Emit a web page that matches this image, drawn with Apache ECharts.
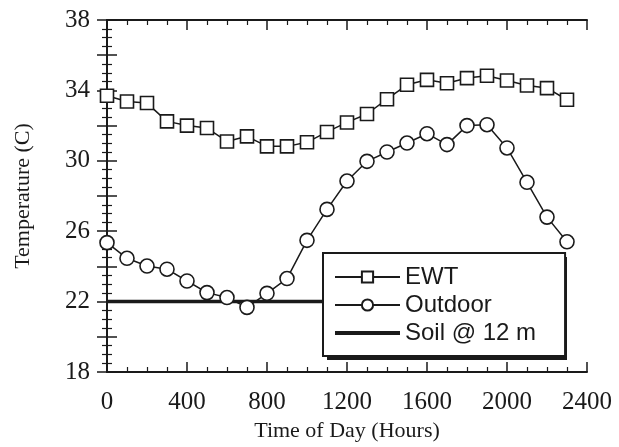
<!DOCTYPE html>
<html>
<head>
<meta charset="utf-8">
<script src="https://cdn.jsdelivr.net/npm/echarts@6/dist/echarts.min.js"></script>
<style>
  html, body { margin: 0; padding: 0; background: #fff; }
  #main { width: 619px; height: 447px; }
</style>
</head>
<body>
<div id="main"></div>
<script>
// hourly readings
const hours = [0, 100, 200, 300, 400, 500, 600, 700, 800, 900, 1000, 1100,
  1200, 1300, 1400, 1500, 1600, 1700, 1800, 1900, 2000, 2100, 2200, 2300];
const ewt = [33.7, 33.37, 33.28, 32.24, 32.0, 31.86, 31.1, 31.39, 30.82, 30.82, 31.05, 31.64,
  32.18, 32.66, 33.5, 34.32, 34.6, 34.41, 34.7, 34.83, 34.56, 34.28, 34.13, 33.47];
const outdoor = [25.35, 24.46, 24.02, 23.84, 23.17, 22.51, 22.23, 21.67, 22.47, 23.31, 25.48, 27.24,
  28.85, 29.97, 30.5, 31.01, 31.54, 30.92, 32.0, 32.05, 30.73, 28.78, 26.8, 25.4];
const soilHours = [0, 2300];
const soil = [22, 22];

const ink = '#1a1a1a';
const serif = 'Liberation Serif';
const sans = 'Liberation Sans';

const pairs = (xs, ys) => xs.map((x, i) => [x, ys[i]]);

const chart = echarts.init(document.getElementById('main'));

const xBase = {
  type: 'value', min: 0, max: 2400, interval: 400,
  axisLine: { lineStyle: { color: ink, width: 2 } },
  axisTick: { inside: true, length: 10, lineStyle: { color: ink, width: 1.5 } },
  minorTick: { show: true, splitNumber: 4, length: 5, lineStyle: { color: ink, width: 1.2 } },
  splitLine: { show: false }
};
const yBase = {
  type: 'value', min: 18, max: 38, interval: 2,
  axisLine: { lineStyle: { color: ink, width: 2 } },
  axisTick: { inside: true, length: 10, lineStyle: { color: ink, width: 1.5 } },
  minorTick: { show: true, splitNumber: 4, length: 5, lineStyle: { color: ink, width: 1.2 } },
  splitLine: { show: false }
};

chart.setOption({
  backgroundColor: '#fff',
  animation: false,
  grid: { left: 107, right: 32, top: 20, bottom: 74 },
  xAxis: [
    Object.assign({}, xBase, {
      position: 'bottom',
      name: 'Time of Day (Hours)',
      nameLocation: 'middle',
      nameGap: 48,
      nameTextStyle: { fontFamily: serif, fontSize: 22, color: ink },
      axisLabel: { margin: 18, fontFamily: serif, fontSize: 25, color: ink, formatter: v => String(v) }
    }),
    Object.assign({}, xBase, { position: 'top', axisLabel: { show: false } })
  ],
  yAxis: [
    Object.assign({}, yBase, {
      position: 'left',
      name: 'Temperature (C)',
      nameLocation: 'middle',
      nameRotate: 90,
      nameGap: 73,
      nameTextStyle: { fontFamily: serif, fontSize: 22, color: ink },
      axisLabel: {
        margin: 17, fontFamily: serif, fontSize: 25, color: ink,
        formatter: v => ((v - 18) % 4 === 0 ? String(v) : '')
      }
    }),
    Object.assign({}, yBase, { position: 'right', axisLabel: { show: false } })
  ],
  // drop shadow behind the legend box
  graphic: [{
    type: 'rect',
    z: 3,
    shape: { x: 327, y: 257, width: 240, height: 103 },
    style: { fill: ink }
  }],
  legend: {
    orient: 'vertical',
    left: 323,
    top: 253,
    z: 4,
    padding: [12, 29, 11, 10],
    itemWidth: 65,
    itemHeight: 14,
    itemGap: 4,
    backgroundColor: '#fff',
    borderColor: ink,
    borderWidth: 2,
    borderRadius: 0,
    textStyle: { fontFamily: sans, fontSize: 24, lineHeight: 24, color: ink },
    data: [
      'EWT',
      'Outdoor',
      { name: 'Soil @ 12 m', itemStyle: { opacity: 0 }, lineStyle: { width: 4 } }
    ]
  },
  series: [
    {
      name: 'Soil @ 12 m',
      type: 'line',
      data: pairs(soilHours, soil),
      symbol: 'none',
      lineStyle: { color: ink, width: 3.5 },
      itemStyle: { color: ink },
      z: 1
    },
    {
      name: 'EWT',
      type: 'line',
      data: pairs(hours, ewt),
      symbol: 'rect',
      symbolSize: 13,
      lineStyle: { color: ink, width: 1.5 },
      itemStyle: { color: '#fff', borderColor: ink, borderWidth: 1.6 },
      z: 2
    },
    {
      name: 'Outdoor',
      type: 'line',
      data: pairs(hours, outdoor),
      symbol: 'circle',
      symbolSize: 14,
      lineStyle: { color: ink, width: 1.5 },
      itemStyle: { color: '#fff', borderColor: ink, borderWidth: 1.6 },
      z: 2
    }
  ]
});
</script>
</body>
</html>
